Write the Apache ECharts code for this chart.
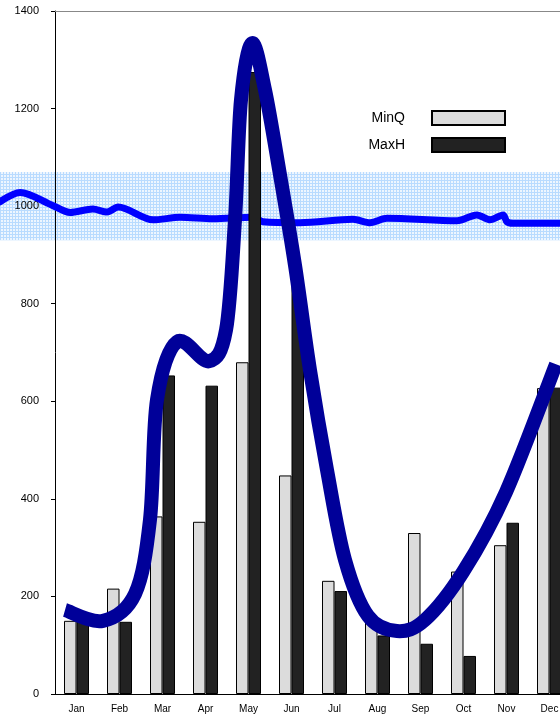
<!DOCTYPE html>
<html><head><meta charset="utf-8">
<script src="https://cdn.jsdelivr.net/npm/echarts@6/dist/echarts.min.js"></script>
<style>html,body{margin:0;padding:0;background:#fff}#c{width:560px;height:715px}</style>
</head><body><div id="c"></div>
<script>
const months = ['Jan','Feb','Mar','Apr','May','Jun','Jul','Aug','Sep','Oct','Nov','Dec'];
const minQ = [150, 216, 364, 353, 680, 448, 232, 150, 330, 251, 305, 627];
const maxH = [155, 148, 653, 632, 1275, 840, 211, 120, 103, 78, 351, 628];
// thick curve: [month position, value]
const curveX = [0.233, 1.116, 1.860, 2.209, 2.372, 2.837, 3.581, 3.977, 4.186, 4.326, 4.581, 4.884, 5.233, 5.581, 5.930, 6.326, 6.744, 7.279, 7.953, 8.605, 9.488, 10.488, 11.651];
const curveY = [172, 150, 205, 357, 603, 722, 682, 746, 972, 1218, 1334, 1238, 1064, 879, 664, 459, 275, 160, 129, 152, 250, 414, 676];
// thin line near 1000: [month position, value]
const thinX = [-1.279, -0.81, -0.07, 0.35, 0.88, 1.21, 1.47, 2.28, 2.91, 3.67, 4.60, 4.84, 5.70, 6.93, 7.33, 7.72, 9.35, 9.81, 10.12, 10.42, 10.51, 10.65, 11.744];
const thinY = [1009, 1028, 1002, 987, 994, 988, 998, 972, 977, 974, 977, 968, 966, 973, 966, 975, 970, 982, 972, 982, 968, 965, 965];
const band = [930, 1070];
const yTicks = [0, 1400, 200];

const pc = document.createElement('canvas');
pc.width = 3; pc.height = 3;
const g = pc.getContext('2d');
g.fillStyle = '#eef6ff'; g.fillRect(0,0,3,3);
g.fillStyle = '#b9dbff'; g.fillRect(0,0,3,1); g.fillRect(0,0,1,3);

function smoothPath(pts) {
  const n = pts.length;
  let d = 'M' + pts[0][0] + ' ' + pts[0][1];
  for (let i = 0; i < n - 1; i++) {
    const p0 = pts[Math.max(i - 1, 0)], p1 = pts[i], p2 = pts[i + 1], p3 = pts[Math.min(i + 2, n - 1)];
    const c1x = p1[0] + (p2[0] - p0[0]) / 6, c1y = p1[1] + (p2[1] - p0[1]) / 6;
    const c2x = p2[0] - (p3[0] - p1[0]) / 6, c2y = p2[1] - (p3[1] - p1[1]) / 6;
    d += ' C' + c1x + ' ' + c1y + ' ' + c2x + ' ' + c2y + ' ' + p2[0] + ' ' + p2[1];
  }
  return d;
}

const chart = echarts.init(document.getElementById('c'), null, {renderer:'canvas'});
const font = 'Liberation Sans, Arial, sans-serif';
chart.setOption({
  animation: false,
  grid: [
    {left: 55, top: 11, width: 516, bottom: 21, outerBoundsMode: 'none', containLabel: false},
    {left: 0, top: 11, width: 560, bottom: 21, outerBoundsMode: 'none', containLabel: false}
  ],
  legend: {
    orient: 'vertical', right: 49, top: 105, align: 'right', icon: 'rect',
    itemWidth: 73, itemHeight: 14, itemGap: 11,
    textStyle: {fontFamily: font, fontSize: 14, color: '#000', padding: [0, 22, 0, 0]},
    data: ['MinQ', 'MaxH']
  },
  xAxis: [
    {type: 'category', data: months, gridIndex: 0,
     axisLine: {lineStyle: {color: '#000', width: 1}},
     axisTick: {length: 4, lineStyle: {color: '#000'}},
     axisLabel: {fontFamily: font, fontSize: 10, color: '#000', margin: 10}},
    {type: 'value', gridIndex: 0, position: 'top', min: 0, max: 12,
     axisLine: {show: true, onZero: false, lineStyle: {color: '#888', width: 1}},
     axisTick: {show: false}, axisLabel: {show: false}, splitLine: {show: false}},
    {type: 'value', gridIndex: 1, min: -1.279, max: 11.744, show: false}
  ],
  yAxis: [
    {type: 'value', gridIndex: 0, min: yTicks[0], max: yTicks[1], interval: yTicks[2],
     axisLine: {show: true, lineStyle: {color: '#000', width: 1}},
     axisTick: {show: true, length: 4, lineStyle: {color: '#000'}},
     axisLabel: {fontFamily: font, fontSize: 11, color: '#000', margin: 16, formatter: v => String(v)},
     splitLine: {show: false}},
    {type: 'value', gridIndex: 1, min: yTicks[0], max: yTicks[1], show: false}
  ],
  series: [
    {name: 'band', type: 'line', xAxisIndex: 2, yAxisIndex: 1, z: 1,
     data: thinX.map((x, i) => [x, thinY[i]]), smooth: 0.3, symbol: 'none',
     lineStyle: {color: '#0000ff', width: 7, cap: 'round'},
     markArea: {silent: true, z: 0,
       itemStyle: {color: {image: pc, repeat: 'repeat'}},
       data: [[{yAxis: band[0]}, {yAxis: band[1]}]]}},
    {name: 'MinQ', type: 'bar', data: minQ, barWidth: 12.5, barGap: '0%', z: 3,
     itemStyle: {color: '#dcdcdc', borderColor: '#000', borderWidth: 1}},
    {name: 'MaxH', type: 'bar', data: maxH, barWidth: 12.5, barGap: '0%', z: 3,
     itemStyle: {color: '#222222', borderColor: '#000', borderWidth: 1}},
    {name: 'curve', type: 'custom', coordinateSystem: 'cartesian2d', xAxisIndex: 1, yAxisIndex: 0, z: 5,
     silent: true,
     data: curveX.map((x, i) => [x, curveY[i]]),
     renderItem: function (params, api) {
       if (params.dataIndex !== 0) return null;
       const pts = curveX.map((x, i) => api.coord([x, curveY[i]]));
       return {type: 'path', shape: {pathData: smoothPath(pts)},
         style: {fill: 'none', stroke: '#000099', lineWidth: 14, lineCap: 'butt', lineJoin: 'round'}};
     }}
  ]
});
</script></body></html>
